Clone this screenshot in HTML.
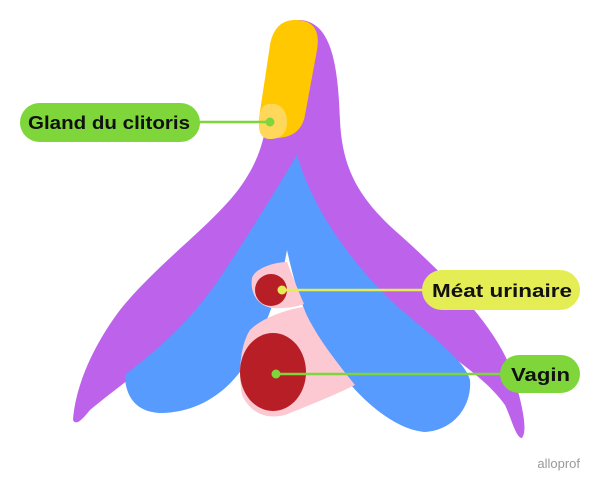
<!DOCTYPE html>
<html><head><style>
body{margin:0;background:#fff;width:600px;height:487px;overflow:hidden}
</style></head><body>
<svg width="600" height="487" xmlns="http://www.w3.org/2000/svg" font-family="Liberation Sans, sans-serif">
<path fill="#bd63eb" d="M300,20 C330,22 338,60 340,120 C342,170 360,200 400,235 C450,280 500,330 515,380 C522,405 528,430 522,438 C516,438 512,420 505,405 C480,370 430,345 380,300 C330,250 300,230 290,230 C280,235 250,270 210,310 C170,350 120,385 90,410 C82,420 76,426 73,420 C75,390 90,350 120,310 C160,260 220,220 245,180 C258,160 265,140 268,110 C272,60 280,20 300,20 Z"/>
<path fill="#569bfd" d="M297,155 C310,200 340,250 390,300 C430,335 465,360 470,380 C472,405 455,430 425,432 C395,430 360,400 335,365 C310,330 298,300 287,250 C280,290 265,330 245,365 C225,395 195,413 160,413 C135,412 125,395 125,375 C150,355 190,325 225,270 C255,225 282,180 297,155 Z"/>
<path fill="#fcc8d2" d="M287,262 C275,262 255,268 252,278 C250,290 255,305 272,308 C285,309 300,306 304,304 C298,290 292,275 287,262 Z"/>
<path fill="#fcc8d2" d="M303,307 C285,310 262,318 250,330 C240,345 238,375 242,395 C250,412 265,420 285,415 C310,405 335,395 355,385 C335,360 315,335 303,307 Z"/>
<ellipse cx="273" cy="372" rx="33" ry="39" fill="#b81e25"/>
<circle cx="271" cy="290" r="16" fill="#b81e25"/>
<path fill="#ffc800" d="M295,20 C315,20 320,32 317,50 L305,115 C302,132 290,138 275,138 C262,136 258,130 259,118 L270,45 C273,28 282,20 295,20 Z"/>
<path fill="#ffd75a" d="M268,104 C280,102 287,110 287,122 C287,134 280,139 270,139 C260,139 258,130 259,118 C260,110 263,105 268,104 Z"/>
<line x1="190" y1="122" x2="270" y2="122" stroke="#7ed63a" stroke-width="2.5"/>
<circle cx="270" cy="122" r="4.5" fill="#7ed63a"/>
<rect x="20" y="103" width="180" height="39" rx="19.5" fill="#7ed63a"/>
<text x="28" y="129" font-size="18" font-weight="bold" fill="#111" textLength="162" lengthAdjust="spacingAndGlyphs">Gland du clitoris</text>
<line x1="282" y1="290" x2="430" y2="290" stroke="#e5ed55" stroke-width="2.5"/>
<circle cx="282" cy="290" r="4.5" fill="#e5ed55"/>
<rect x="422" y="270" width="158" height="40" rx="20" fill="#e5ed55"/>
<text x="432" y="297" font-size="18" font-weight="bold" fill="#111" textLength="140" lengthAdjust="spacingAndGlyphs">Méat urinaire</text>
<line x1="276" y1="374" x2="505" y2="374" stroke="#7ed63a" stroke-width="2.5"/>
<circle cx="276" cy="374" r="4.5" fill="#7ed63a"/>
<rect x="500" y="355" width="80" height="38" rx="19" fill="#7ed63a"/>
<text x="511" y="381" font-size="18" font-weight="bold" fill="#111" textLength="59" lengthAdjust="spacingAndGlyphs">Vagin</text>
<text x="580" y="468" text-anchor="end" font-size="13" fill="#999">alloprof</text>
</svg>
</body></html>
